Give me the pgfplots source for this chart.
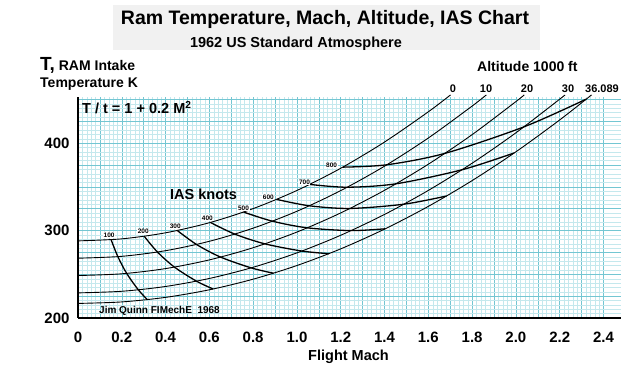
\documentclass[border=0pt]{standalone}
\usepackage{pgfplots}
\pgfplotsset{compat=1.18}
\usepackage{fontspec}
\setmainfont{Liberation Sans}
\definecolor{gmaj}{RGB}{115,198,210}
\definecolor{gmin}{RGB}{196,232,237}
\definecolor{boxgray}{RGB}{241,241,241}
\begin{document}
\begin{tikzpicture}
\useasboundingbox (-78pt,-54pt) rectangle (562pt,318pt);
\fill[boxgray] (35pt,268pt) rectangle (462pt,313pt);
\node[anchor=base, inner sep=0pt, font=\fontsize{19.5}{20}\selectfont\bfseries] at (247pt,293pt) {Ram Temperature, Mach, Altitude, IAS Chart};
\node[anchor=base, inner sep=0pt, font=\fontsize{14.5}{15}\selectfont\bfseries] at (218pt,270pt) {1962 US Standard Atmosphere};
\node[anchor=base west, inner sep=0pt, font=\fontsize{14}{15}\selectfont\bfseries] at (-38pt,247pt) {{\fontsize{19}{20}\selectfont T,} RAM Intake};
\node[anchor=base west, inner sep=0pt, font=\fontsize{14}{15}\selectfont\bfseries] at (-38pt,230pt) {Temperature K};
\node[anchor=base west, inner sep=0pt, font=\fontsize{14}{15}\selectfont\bfseries] at (399pt,246pt) {Altitude 1000 ft};
\begin{axis}[
  at={(0pt,0pt)}, anchor=south west,
  scale only axis, width=543pt, height=221pt,
  xmin=0, xmax=2.48, ymin=200, ymax=452.6,
  axis x line*=bottom, axis y line*=left,
  axis line style={line width=2.6pt, black, -},
  xtick={0,0.1,0.2,0.3,0.4,0.5,0.6,0.7,0.8,0.9,1.0,1.1,1.2,1.3,1.4,1.5,1.6,1.7,1.8,1.9,2.0,2.1,2.2,2.3,2.4},
  xticklabels={0,,0.2,,0.4,,0.6,,0.8,,1.0,,1.2,,1.4,,1.6,,1.8,,2.0,,2.2,,2.4},
  ytick={200,225,250,275,300,325,350,375,400,425,450},
  yticklabels={200,,,,300,,,,400,,},
  minor x tick num=4, minor y tick num=4,
  major tick length=0pt, minor tick length=0pt,
  grid=both,
  major grid style={line width=0.5pt, draw=gmaj},
  minor grid style={line width=0.25pt, draw=gmin},
  xticklabel style={font=\fontsize{15}{15}\selectfont\bfseries, anchor=base, yshift=-25pt},
  yticklabel style={font=\fontsize{15}{15}\selectfont\bfseries, xshift=-5pt},
  clip=false,
]
% altitude curves T = t(1+0.2M^2)
\addplot[black, line width=0.9pt, smooth] coordinates {(0,288.15) (0.2,290.46) (0.4,297.37) (0.6,308.90) (0.8,325.03) (1.0,345.78) (1.2,371.14) (1.4,401.10) (1.6,435.68) (1.7015,455)};
\addplot[black, line width=0.9pt, smooth] coordinates {(0,268.34) (0.2,270.49) (0.4,276.93) (0.6,287.66) (0.8,302.69) (1.0,322.01) (1.2,345.62) (1.4,373.53) (1.6,405.73) (1.8,442.22) (1.865,455)};
\addplot[black, line width=0.9pt, smooth] coordinates {(0,248.53) (0.2,250.52) (0.4,256.48) (0.6,266.42) (0.8,280.34) (1.0,298.24) (1.2,320.11) (1.4,345.95) (1.6,375.78) (1.8,409.58) (2.0,447.35) (2.0381,455)};
\addplot[black, line width=0.9pt, smooth] coordinates {(0,228.71) (0.2,230.54) (0.4,236.03) (0.6,245.18) (0.8,257.98) (1.0,274.45) (1.2,294.58) (1.4,318.36) (1.6,345.81) (1.8,376.91) (2.0,411.68) (2.2,450.10) (2.2242,455)};
\addplot[black, line width=0.9pt, smooth] coordinates {(0,216.65) (0.2,218.38) (0.4,223.58) (0.6,232.25) (0.8,244.38) (1.0,259.98) (1.2,279.04) (1.4,301.58) (1.6,327.58) (1.8,357.04) (2.0,389.97) (2.2,426.37) (2.3454,455)};
% IAS curves (SL, 10k, 20k, 30k, 36.089k)
\addplot[black, line width=1.3pt, smooth] coordinates {(0.1512,289.47) (0.1821,270.12) (0.2223,250.99) (0.2756,232.18) (0.3168,221.00)};
\addplot[black, line width=1.3pt, smooth] coordinates {(0.3024,293.42) (0.3628,275.41) (0.4404,258.17) (0.5411,242.10) (0.6172,233.16)};
\addplot[black, line width=1.3pt, smooth] coordinates {(0.4535,300.00) (0.5411,284.06) (0.6513,269.61) (0.7906,257.30) (0.8928,251.19)};
\addplot[black, line width=1.3pt, smooth] coordinates {(0.6047,309.22) (0.7162,295.87) (0.8536,284.75) (1.0224,276.52) (1.1457,273.53)};
\addplot[black, line width=1.3pt, smooth] coordinates {(0.7559,321.08) (0.8879,310.65) (1.0473,303.05) (1.2477,299.92) (1.4032,301.97)};
\addplot[black, line width=1.3pt, smooth] coordinates {(0.9071,335.57) (1.0566,328.25) (1.2421,325.22) (1.4887,330.08) (1.6833,339.43)};
\addplot[black, line width=1.3pt, smooth] coordinates {(1.0582,352.69) (1.2296,349.48) (1.4526,353.41) (1.7541,369.45) (1.9925,388.67)};
\addplot[black, line width=1.3pt, smooth] coordinates {(1.2094,372.44) (1.4106,375.13) (1.6763,388.20) (2.0369,418.49) (2.3218,450.23)};
\tikzset{ias/.style={fill=white, inner sep=0.6pt, font=\fontsize{6.5}{6.5}\selectfont\bfseries}}
\node[ias, anchor=south, xshift=-2pt, yshift=1.5pt] at (axis cs:0.1512,289.47) {100};
\node[ias, anchor=south, xshift=-1pt, yshift=1.5pt] at (axis cs:0.3024,293.42) {200};
\node[ias, anchor=south, xshift=-2pt, yshift=1.5pt] at (axis cs:0.4535,300.00) {300};
\node[ias, anchor=south, xshift=-3pt, yshift=1.5pt] at (axis cs:0.6047,309.22) {400};
\node[ias, anchor=south, xshift=0pt, yshift=1pt] at (axis cs:0.7559,321.08) {500};
\node[ias, anchor=east, xshift=-2pt, yshift=2pt] at (axis cs:0.9071,335.57) {600};
\node[ias, anchor=east, xshift=1pt, yshift=2.5pt] at (axis cs:1.0582,352.69) {700};
\node[ias, anchor=east, xshift=-5pt, yshift=2pt] at (axis cs:1.2094,372.44) {800};
\end{axis}
\node[anchor=base west, inner sep=0pt, font=\fontsize{14.5}{15}\selectfont\bfseries] at (4pt,204pt) {T / t = 1 + 0.2 M\textsuperscript{2}};
\node[anchor=base west, inner sep=0pt, font=\fontsize{14.5}{15}\selectfont\bfseries] at (92pt,118pt) {IAS knots};
\node[anchor=base west, inner sep=0pt, font=\fontsize{10}{10}\selectfont\bfseries] at (21pt,4pt) {Jim Quinn FIMechE\ \ 1968};
\node[anchor=base, inner sep=0pt, font=\fontsize{14.5}{15}\selectfont\bfseries] at (270.5pt,-42pt) {Flight Mach};
\begin{scope}[every node/.style={anchor=base, inner sep=0pt, font=\fontsize{11}{11}\selectfont\bfseries}]
\node at (375pt,225pt) {0};
\node at (408pt,225pt) {10};
\node at (449pt,225pt) {20};
\node at (490pt,225pt) {30};
\node[anchor=base west] at (507pt,225pt) {36.089};
\end{scope}
\end{tikzpicture}
\end{document}
